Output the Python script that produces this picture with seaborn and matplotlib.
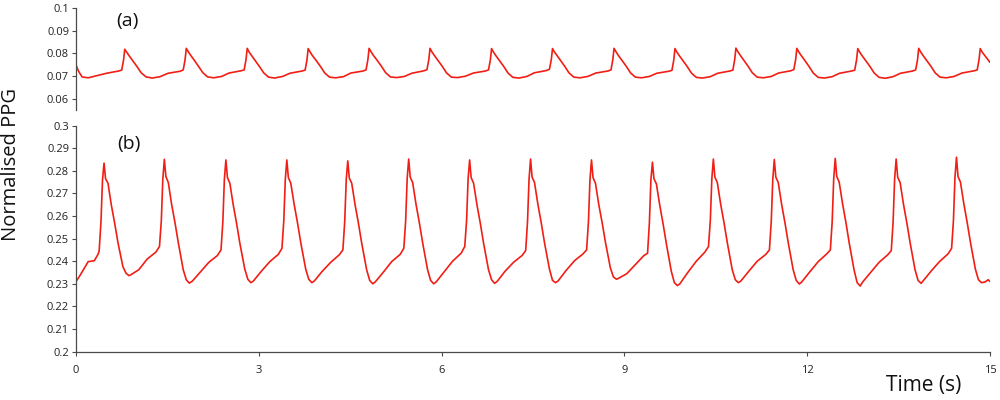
import pandas as pd
import matplotlib.pyplot as plt
import seaborn as sns

# (a) oppe: tid (s) og normalisert PPG, lest av figuren slag for slag
tid_a = [0.00, 0.04, 0.10, 0.20, 0.35,
         0.50, 0.70, 0.75, 0.78, 0.80, 0.83, 0.87, 0.93, 1.00, 1.07, 1.15, 1.25, 1.38,
         1.51, 1.71, 1.76, 1.79, 1.81, 1.84, 1.88, 1.94, 2.01, 2.08, 2.16, 2.26, 2.39,
         2.51, 2.71, 2.76, 2.79, 2.81, 2.84, 2.88, 2.94, 3.01, 3.08, 3.16, 3.26, 3.39,
         3.51, 3.71, 3.76, 3.79, 3.81, 3.84, 3.88, 3.94, 4.01, 4.08, 4.16, 4.26, 4.39,
         4.51, 4.71, 4.76, 4.79, 4.81, 4.84, 4.88, 4.94, 5.01, 5.08, 5.16, 5.26, 5.39,
         5.51, 5.71, 5.76, 5.79, 5.81, 5.84, 5.88, 5.94, 6.01, 6.08, 6.16, 6.26, 6.39,
         6.52, 6.72, 6.77, 6.80, 6.82, 6.85, 6.89, 6.95, 7.02, 7.09, 7.17, 7.27, 7.40,
         7.52, 7.72, 7.77, 7.80, 7.82, 7.85, 7.89, 7.95, 8.02, 8.09, 8.17, 8.27, 8.40,
         8.53, 8.73, 8.78, 8.81, 8.83, 8.86, 8.90, 8.96, 9.03, 9.10, 9.18, 9.28, 9.41,
         9.53, 9.73, 9.78, 9.81, 9.83, 9.86, 9.90, 9.96, 10.03, 10.10, 10.18, 10.28, 10.41,
         10.53, 10.73, 10.78, 10.81, 10.83, 10.86, 10.90, 10.96, 11.03, 11.10, 11.18, 11.28, 11.41,
         11.53, 11.73, 11.78, 11.81, 11.83, 11.86, 11.90, 11.96, 12.03, 12.10, 12.18, 12.28, 12.41,
         12.53, 12.73, 12.78, 12.81, 12.83, 12.86, 12.90, 12.96, 13.03, 13.10, 13.18, 13.28, 13.41,
         13.53, 13.73, 13.78, 13.81, 13.83, 13.86, 13.90, 13.96, 14.03, 14.10, 14.18, 14.28, 14.41,
         14.54, 14.74, 14.79, 14.82, 14.84, 14.87, 14.91, 14.96, 15.00]
ppg_a = [0.0748, 0.0722, 0.0696, 0.0692, 0.0702,
         0.0712, 0.0722, 0.0726, 0.0770, 0.0818, 0.0806, 0.0790, 0.0768, 0.0742, 0.0714, 0.0696, 0.0691, 0.0697,
         0.0712, 0.0721, 0.0727, 0.0772, 0.0822, 0.0808, 0.0792, 0.0770, 0.0743, 0.0715, 0.0696, 0.0692, 0.0698,
         0.0713, 0.0723, 0.0727, 0.0772, 0.0822, 0.0806, 0.0791, 0.0768, 0.0742, 0.0714, 0.0695, 0.0691, 0.0698,
         0.0712, 0.0722, 0.0726, 0.0770, 0.0821, 0.0807, 0.0790, 0.0769, 0.0743, 0.0714, 0.0695, 0.0692, 0.0697,
         0.0713, 0.0722, 0.0727, 0.0772, 0.0822, 0.0808, 0.0791, 0.0770, 0.0744, 0.0715, 0.0696, 0.0693, 0.0698,
         0.0712, 0.0723, 0.0728, 0.0772, 0.0822, 0.0807, 0.0791, 0.0769, 0.0743, 0.0714, 0.0695, 0.0693, 0.0699,
         0.0713, 0.0722, 0.0727, 0.0771, 0.0821, 0.0806, 0.0790, 0.0768, 0.0742, 0.0713, 0.0694, 0.0691, 0.0698,
         0.0714, 0.0724, 0.0730, 0.0772, 0.0821, 0.0807, 0.0792, 0.0770, 0.0743, 0.0714, 0.0695, 0.0692, 0.0698,
         0.0713, 0.0722, 0.0727, 0.0772, 0.0822, 0.0808, 0.0791, 0.0769, 0.0743, 0.0714, 0.0695, 0.0692, 0.0698,
         0.0712, 0.0721, 0.0725, 0.0770, 0.0821, 0.0806, 0.0790, 0.0768, 0.0742, 0.0713, 0.0694, 0.0691, 0.0697,
         0.0712, 0.0722, 0.0726, 0.0772, 0.0823, 0.0808, 0.0792, 0.0769, 0.0743, 0.0714, 0.0695, 0.0692, 0.0698,
         0.0713, 0.0723, 0.0728, 0.0772, 0.0822, 0.0807, 0.0791, 0.0769, 0.0742, 0.0713, 0.0694, 0.0691, 0.0697,
         0.0712, 0.0722, 0.0726, 0.0771, 0.0821, 0.0806, 0.0790, 0.0768, 0.0742, 0.0713, 0.0694, 0.0690, 0.0697,
         0.0712, 0.0722, 0.0727, 0.0771, 0.0822, 0.0807, 0.0791, 0.0769, 0.0743, 0.0714, 0.0695, 0.0692, 0.0698,
         0.0713, 0.0723, 0.0727, 0.0772, 0.0821, 0.0806, 0.0792, 0.0775, 0.0760]

# (b) nede
tid_b = [0.00, 0.05, 0.12, 0.20, 0.30, 0.36, 0.38, 0.41, 0.435, 0.46, 0.485, 0.525, 0.58, 0.635, 0.69, 0.77, 0.82, 0.87,
         0.90, 1.03, 1.17, 1.31, 1.37, 1.40, 1.425, 1.45, 1.475, 1.515, 1.57, 1.625, 1.68, 1.76, 1.81, 1.86,
         1.91, 2.04, 2.18, 2.32, 2.38, 2.41, 2.435, 2.46, 2.485, 2.525, 2.58, 2.635, 2.69, 2.77, 2.82, 2.87,
         2.91, 3.04, 3.18, 3.32, 3.38, 3.41, 3.435, 3.46, 3.485, 3.525, 3.58, 3.635, 3.69, 3.77, 3.82, 3.87,
         3.91, 4.04, 4.18, 4.32, 4.38, 4.41, 4.435, 4.46, 4.485, 4.525, 4.58, 4.635, 4.69, 4.77, 4.82, 4.87,
         4.91, 5.04, 5.18, 5.32, 5.38, 5.41, 5.435, 5.46, 5.485, 5.525, 5.58, 5.635, 5.69, 5.77, 5.82, 5.87,
         5.91, 6.04, 6.18, 6.32, 6.38, 6.41, 6.435, 6.46, 6.485, 6.525, 6.58, 6.635, 6.69, 6.77, 6.82, 6.87,
         6.91, 7.04, 7.18, 7.32, 7.38, 7.41, 7.435, 7.46, 7.485, 7.525, 7.58, 7.635, 7.69, 7.77, 7.82, 7.87,
         7.91, 8.04, 8.18, 8.32, 8.38, 8.41, 8.435, 8.46, 8.485, 8.525, 8.58, 8.635, 8.69, 8.77, 8.82, 8.87,
         8.91, 9.04, 9.18, 9.32, 9.38, 9.41, 9.435, 9.46, 9.485, 9.525, 9.58, 9.635, 9.69, 9.77, 9.82, 9.87,
         9.91, 10.04, 10.18, 10.32, 10.38, 10.41, 10.435, 10.46, 10.485, 10.525, 10.58, 10.635, 10.69, 10.77, 10.82, 10.87,
         10.91, 11.04, 11.18, 11.32, 11.38, 11.41, 11.435, 11.46, 11.485, 11.525, 11.58, 11.635, 11.69, 11.77, 11.82, 11.87,
         11.91, 12.04, 12.18, 12.32, 12.38, 12.41, 12.435, 12.46, 12.485, 12.525, 12.58, 12.635, 12.69, 12.77, 12.82, 12.87,
         12.91, 13.04, 13.18, 13.32, 13.38, 13.41, 13.435, 13.46, 13.485, 13.525, 13.58, 13.635, 13.69, 13.77, 13.82, 13.87,
         13.90, 14.03, 14.17, 14.31, 14.37, 14.40, 14.425, 14.45, 14.475, 14.515, 14.57, 14.625, 14.68, 14.76, 14.81, 14.86,
         14.92, 14.97, 15.00]
ppg_b = [0.2310, 0.2330, 0.2362, 0.2398, 0.2402, 0.2430, 0.2445, 0.2575, 0.2760, 0.2834, 0.2765, 0.2745, 0.2648, 0.2568, 0.2480, 0.2376, 0.2347, 0.2336,
         0.2340, 0.2362, 0.2410, 0.2440, 0.2465, 0.2578, 0.2765, 0.2851, 0.2775, 0.2748, 0.2650, 0.2570, 0.2480, 0.2362, 0.2318, 0.2303,
         0.2312, 0.2352, 0.2395, 0.2425, 0.2450, 0.2575, 0.2762, 0.2848, 0.2770, 0.2745, 0.2650, 0.2568, 0.2478, 0.2365, 0.2320, 0.2305,
         0.2312, 0.2355, 0.2398, 0.2430, 0.2457, 0.2578, 0.2762, 0.2848, 0.2770, 0.2745, 0.2652, 0.2570, 0.2480, 0.2365, 0.2320, 0.2305,
         0.2312, 0.2355, 0.2395, 0.2428, 0.2450, 0.2575, 0.2760, 0.2844, 0.2768, 0.2745, 0.2650, 0.2568, 0.2478, 0.2362, 0.2315, 0.2300,
         0.2308, 0.2350, 0.2398, 0.2430, 0.2457, 0.2578, 0.2765, 0.2852, 0.2772, 0.2748, 0.2652, 0.2570, 0.2480, 0.2362, 0.2315, 0.2300,
         0.2308, 0.2352, 0.2400, 0.2435, 0.2465, 0.2580, 0.2765, 0.2848, 0.2770, 0.2745, 0.2650, 0.2568, 0.2478, 0.2362, 0.2318, 0.2302,
         0.2310, 0.2355, 0.2395, 0.2425, 0.2447, 0.2575, 0.2762, 0.2852, 0.2772, 0.2748, 0.2652, 0.2570, 0.2480, 0.2365, 0.2315, 0.2305,
         0.2312, 0.2358, 0.2402, 0.2432, 0.2450, 0.2575, 0.2762, 0.2848, 0.2770, 0.2745, 0.2650, 0.2570, 0.2482, 0.2370, 0.2330, 0.2320,
         0.2325, 0.2345, 0.2385, 0.2425, 0.2435, 0.2570, 0.2760, 0.2838, 0.2765, 0.2742, 0.2648, 0.2565, 0.2475, 0.2355, 0.2305, 0.2292,
         0.2300, 0.2350, 0.2400, 0.2440, 0.2465, 0.2580, 0.2765, 0.2852, 0.2772, 0.2748, 0.2652, 0.2570, 0.2480, 0.2362, 0.2318, 0.2305,
         0.2312, 0.2355, 0.2400, 0.2430, 0.2450, 0.2575, 0.2762, 0.2850, 0.2772, 0.2748, 0.2652, 0.2570, 0.2480, 0.2362, 0.2315, 0.2299,
         0.2308, 0.2352, 0.2398, 0.2432, 0.2450, 0.2575, 0.2765, 0.2855, 0.2775, 0.2750, 0.2655, 0.2572, 0.2480, 0.2360, 0.2305, 0.2290,
         0.2308, 0.2350, 0.2395, 0.2428, 0.2447, 0.2575, 0.2765, 0.2852, 0.2772, 0.2748, 0.2652, 0.2570, 0.2480, 0.2362, 0.2315, 0.2302,
         0.2312, 0.2355, 0.2398, 0.2432, 0.2457, 0.2580, 0.2770, 0.2860, 0.2775, 0.2750, 0.2655, 0.2572, 0.2482, 0.2365, 0.2318, 0.2305,
         0.2308, 0.2318, 0.2310]

yticks_a = [0.06, 0.07, 0.08, 0.09, 0.1]
ytick_labels_a = ["0.06", "0.07", "0.08", "0.09", "0.1"]
yticks_b = [0.2, 0.21, 0.22, 0.23, 0.24, 0.25, 0.26, 0.27, 0.28, 0.29, 0.3]
ytick_labels_b = ["0.2", "0.21", "0.22", "0.23", "0.24", "0.25", "0.26", "0.27", "0.28", "0.29", "0.3"]
xticks = [0, 3, 6, 9, 12, 15]

df_a = pd.DataFrame({"Tid": tid_a, "PPG": ppg_a})
df_b = pd.DataFrame({"Tid": tid_b, "PPG": ppg_b})

sns.set_theme(style="ticks")
plt.rcParams["font.family"] = ["Open Sans", "DejaVu Sans"]

fig = plt.figure(figsize=(10, 4), dpi=100)
ax_a = fig.add_axes([0.076, 0.725, 0.914, 0.255])
ax_b = fig.add_axes([0.076, 0.121, 0.914, 0.565])

linjefarge = "#f01e14"
aksefarge = "#4a4a4a"

sns.lineplot(data=df_a, x="Tid", y="PPG", ax=ax_a, color=linjefarge,
             linewidth=1.2, estimator=None, sort=False)
sns.lineplot(data=df_b, x="Tid", y="PPG", ax=ax_b, color=linjefarge,
             linewidth=1.2, estimator=None, sort=False)

for ax in (ax_a, ax_b):
    ax.set_xlim(0, 15)
    ax.set_xlabel("")
    ax.set_ylabel("")
    for side in ("top", "right"):
        ax.spines[side].set_visible(False)
    ax.spines["left"].set_color(aksefarge)
    ax.spines["left"].set_linewidth(0.9)
    ax.tick_params(axis="y", length=3, width=0.8, color=aksefarge,
                   labelsize=8, labelcolor="#222222", pad=2)

# toppanelet har ingen x-akse
ax_a.set_ylim(0.055, 0.1)
ax_a.set_yticks(yticks_a)
ax_a.set_yticklabels(ytick_labels_a)
ax_a.spines["bottom"].set_visible(False)
ax_a.set_xticks([])

ax_b.set_ylim(0.2, 0.3)
ax_b.set_yticks(yticks_b)
ax_b.set_yticklabels(ytick_labels_b)
ax_b.set_xticks(xticks)
ax_b.set_xticklabels([str(x) for x in xticks])
ax_b.spines["bottom"].set_color(aksefarge)
ax_b.spines["bottom"].set_linewidth(0.9)
ax_b.tick_params(axis="x", length=3, width=0.8, color=aksefarge,
                 labelsize=8, labelcolor="#222222", pad=7)

ax_a.text(0.0565, 0.87, "(a)", transform=ax_a.transAxes, fontsize=14,
          ha="center", va="center", color="#111111")
ax_b.text(0.0575, 0.92, "(b)", transform=ax_b.transAxes, fontsize=14,
          ha="center", va="center", color="#111111")

fig.text(0.011, 0.59, "Normalised PPG", rotation=90, fontsize=14.5,
         ha="center", va="center", color="#111111")
fig.text(0.924, 0.035, "Time (s)", fontsize=15, ha="center", va="center",
         color="#111111")

fig.savefig("out.png", dpi=100)
